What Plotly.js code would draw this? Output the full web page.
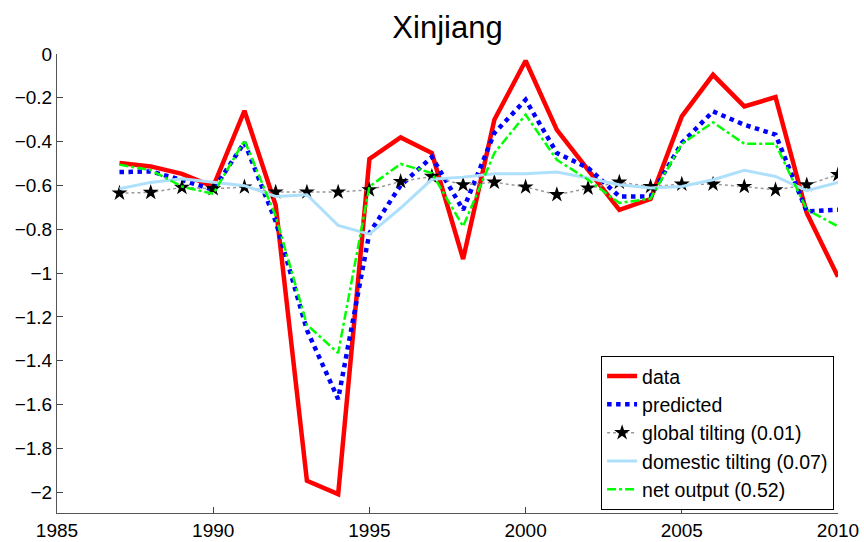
<!DOCTYPE html>
<html>
<head>
<meta charset="utf-8">
<script src="https://cdn.plot.ly/plotly-3.0.1.min.js"></script>
<style>html,body{margin:0;padding:0;background:#fff;}#chart{width:864px;height:542px;}</style>
</head>
<body>
<div id="chart"></div>
<script>
const years = [1987,1988,1989,1990,1991,1992,1993,1994,1995,1996,1997,1998,1999,2000,2001,2002,2003,2004,2005,2006,2007,2008,2009,2010];
const dataSeries = [-0.498,-0.513,-0.547,-0.605,-0.259,-0.69,-1.948,-2.009,-0.479,-0.381,-0.452,-0.936,-0.30,-0.031,-0.346,-0.53,-0.711,-0.662,-0.285,-0.095,-0.239,-0.197,-0.726,-1.017];
const predicted = [-0.539,-0.536,-0.575,-0.62,-0.404,-0.764,-1.26,-1.575,-0.817,-0.60,-0.47,-0.711,-0.361,-0.209,-0.452,-0.52,-0.65,-0.65,-0.406,-0.262,-0.323,-0.368,-0.719,-0.711];
const globalTilting = [-0.635,-0.632,-0.609,-0.615,-0.607,-0.63,-0.63,-0.63,-0.62,-0.582,-0.559,-0.597,-0.585,-0.607,-0.642,-0.612,-0.585,-0.605,-0.594,-0.594,-0.605,-0.62,-0.597,-0.551];
const domesticTilting = [-0.615,-0.586,-0.569,-0.585,-0.601,-0.65,-0.642,-0.782,-0.822,-0.703,-0.572,-0.562,-0.547,-0.547,-0.539,-0.566,-0.597,-0.612,-0.605,-0.574,-0.531,-0.559,-0.624,-0.586];
const netOutput = [-0.505,-0.53,-0.605,-0.638,-0.394,-0.74,-1.236,-1.365,-0.605,-0.502,-0.543,-0.787,-0.452,-0.277,-0.483,-0.574,-0.68,-0.66,-0.41,-0.312,-0.41,-0.41,-0.71,-0.787];
const names = ['data','predicted','global tilting (0.01)','domestic tilting (0.07)','net output (0.52)'];
const xTicks = [1985,1990,1995,2000,2005,2010];
const yTicks = [0,-0.2,-0.4,-0.6,-0.8,-1,-1.2,-1.4,-1.6,-1.8,-2];

const FONT = 'Liberation Sans, Arial, Helvetica, sans-serif';
const traces = [
  {x: years, y: dataSeries, name: names[0], mode: 'lines', line: {color: '#ff0000', width: 4.5}},
  {x: years, y: predicted, name: names[1], mode: 'lines', line: {color: '#0000ff', width: 4.5, dash: 'dot'}},
  {x: years, y: globalTilting, name: names[2], mode: 'lines+markers', line: {color: '#999999', width: 1.5, dash: 'dot'}, marker: {symbol: 'star', size: 12, color: '#000000'}},
  {x: years, y: domesticTilting, name: names[3], mode: 'lines', line: {color: '#aee0fb', width: 3}},
  {x: years, y: netOutput, name: names[4], mode: 'lines', line: {color: '#00ff00', width: 2.5, dash: 'dashdot'}}
];
const layout = {
  width: 864, height: 542,
  margin: {l: 57, r: 26, t: 54, b: 29},
  paper_bgcolor: '#ffffff', plot_bgcolor: '#ffffff',
  font: {family: FONT, size: 19, color: '#000'},
  title: {text: 'Xinjiang', font: {family: FONT, size: 31, color: '#000'}, x: 0.5, xref: 'paper', xanchor: 'center', y: 0.95, yref: 'container', yanchor: 'middle'},
  xaxis: {range: [1985, 2010], tickvals: xTicks, ticktext: xTicks.map(String), ticks: 'inside', ticklen: 6, tickcolor: '#444', showline: true, linecolor: '#555', linewidth: 1, showgrid: false, zeroline: false, tickfont: {family: FONT, size: 19}},
  yaxis: {range: [-2.095, 0], tickvals: yTicks, ticks: 'inside', ticklen: 6, tickcolor: '#444', showline: true, linecolor: '#555', linewidth: 1, showgrid: false, zeroline: false, tickfont: {family: FONT, size: 19}},
  showlegend: true,
  legend: {x: 0.995, y: 0.007, xanchor: 'right', yanchor: 'bottom', bgcolor: '#ffffff', bordercolor: '#000', borderwidth: 1, font: {family: FONT, size: 19.5}, tracegroupgap: 0, itemwidth: 30}
};
Plotly.newPlot('chart', traces, layout, {displayModeBar: false, staticPlot: true});
</script>
</body>
</html>
